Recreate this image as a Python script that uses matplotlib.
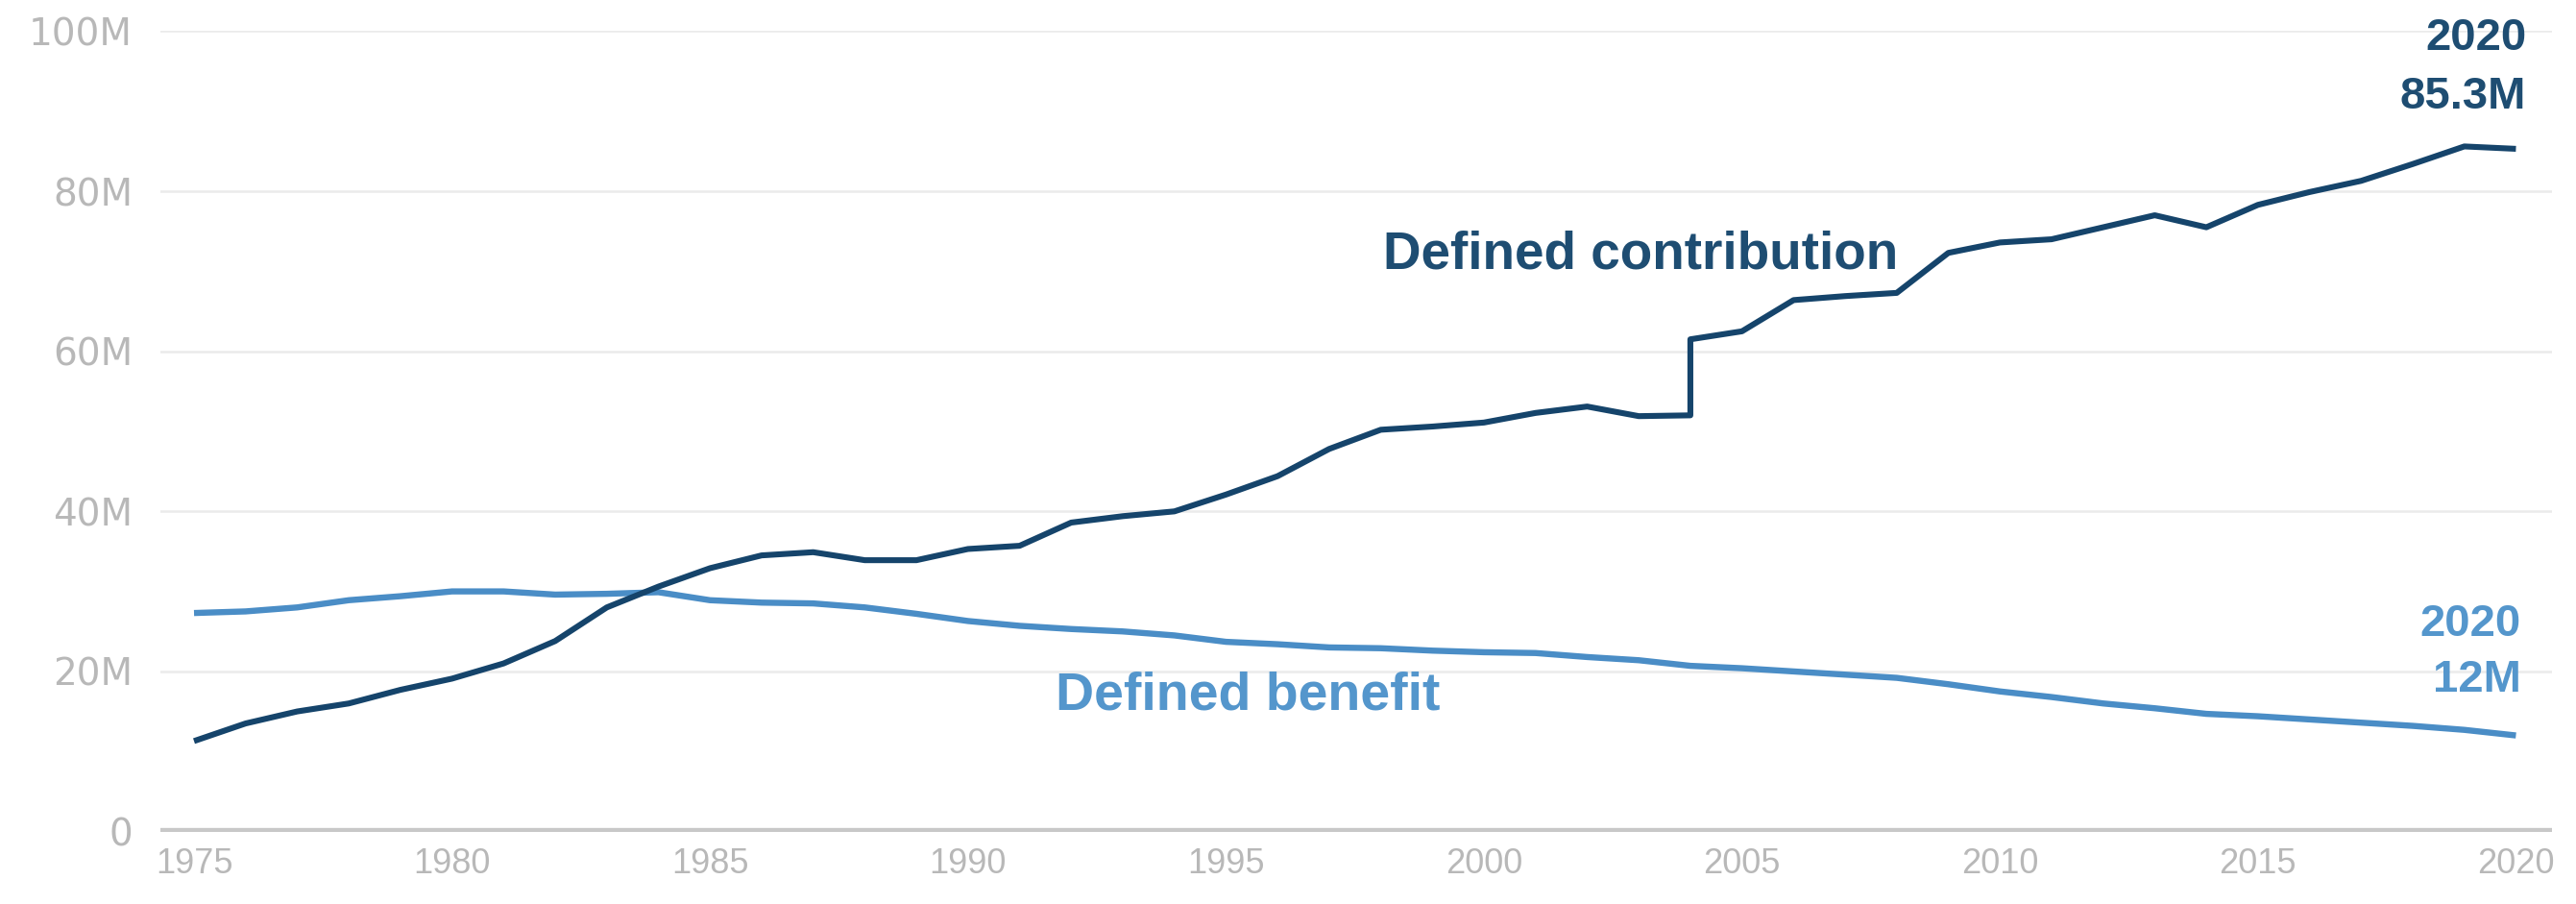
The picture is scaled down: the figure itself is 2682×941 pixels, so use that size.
import matplotlib
matplotlib.use("Agg")
import matplotlib.pyplot as plt
from matplotlib.ticker import FuncFormatter

# active participants, millions (2004 appears twice: series break)
years = [1975, 1976, 1977, 1978, 1979, 1980, 1981, 1982, 1983, 1984,
         1985, 1986, 1987, 1988, 1989, 1990, 1991, 1992, 1993, 1994,
         1995, 1996, 1997, 1998, 1999, 2000, 2001, 2002, 2003, 2004,
         2004, 2005, 2006, 2007, 2008, 2009, 2010, 2011, 2012, 2013,
         2014, 2015, 2016, 2017, 2018, 2019, 2020]
dc = [11.3, 13.5, 15.0, 16.0, 17.7, 19.1, 21.0, 23.8, 28.0, 30.6,
      32.9, 34.5, 34.9, 33.9, 33.9, 35.3, 35.7, 38.6, 39.4, 40.0,
      42.1, 44.4, 47.8, 50.2, 50.6, 51.1, 52.3, 53.1, 51.9, 52.0,
      61.5, 62.5, 66.4, 66.9, 67.3, 72.3, 73.6, 74.0, 75.5, 77.0,
      75.5, 78.3, 79.9, 81.3, 83.4, 85.6, 85.3]

db_years = [1975, 1976, 1977, 1978, 1979, 1980, 1981, 1982, 1983, 1984,
            1985, 1986, 1987, 1988, 1989, 1990, 1991, 1992, 1993, 1994,
            1995, 1996, 1997, 1998, 1999, 2000, 2001, 2002, 2003, 2004,
            2005, 2006, 2007, 2008, 2009, 2010, 2011, 2012, 2013, 2014,
            2015, 2016, 2017, 2018, 2019, 2020]
db = [27.3, 27.5, 28.0, 28.9, 29.4, 30.0, 30.0, 29.6, 29.7, 29.9,
      28.9, 28.6, 28.5, 28.0, 27.2, 26.3, 25.7, 25.3, 25.0, 24.5,
      23.7, 23.4, 23.0, 22.9, 22.6, 22.4, 22.3, 21.8, 21.4, 20.7,
      20.4, 20.0, 19.6, 19.2, 18.4, 17.5, 16.8, 16.0, 15.4, 14.7,
      14.4, 14.0, 13.6, 13.2, 12.7, 12.0]

yticks = [0, 20, 40, 60, 80, 100]
xticks = [1975, 1980, 1985, 1990, 1995, 2000, 2005, 2010, 2015, 2020]

dc_color = '#15446b'
db_color = '#4a8dc6'
dc_text = '#1e4d72'
db_text = '#5496cc'
tick_color = '#b8b8b8'
label_font = ['Liberation Sans', 'DejaVu Sans']

fig = plt.figure(figsize=(26.82, 9.41), dpi=100)
ax = fig.add_axes([0.0623, 0.0802, 0.9284, 0.8853])

for y in yticks[1:]:
    ax.axhline(y, color='#ebebeb', lw=1.8, zorder=0)
ax.axhline(0, color='#c8c8c8', lw=6, zorder=1)

ax.plot(db_years, db, color=db_color, lw=4.6, solid_capstyle='butt',
        solid_joinstyle='round', zorder=3)
ax.plot(years, dc, color=dc_color, lw=4.4, solid_capstyle='butt',
        solid_joinstyle='round', zorder=4)

ax.set_xlim(1974.35, 2020.7)
ax.set_ylim(0, 100)
ax.set_yticks(yticks)
ax.set_xticks(xticks)
ax.yaxis.set_major_formatter(FuncFormatter(lambda v, p: '0' if v == 0 else f'{int(v)}M'))
ax.tick_params(axis='y', length=0, pad=21, labelsize=28, labelcolor=tick_color)
ax.tick_params(axis='x', length=0, pad=12, labelsize=26, labelcolor=tick_color)
for lab in ax.get_xticklabels():
    lab.set_family(label_font)
for s in ax.spines.values():
    s.set_visible(False)

ax.text(1998.05, 70.3, 'Defined contribution', color=dc_text, fontsize=39.5,
        fontweight='bold', family=label_font, va='baseline', ha='left')
ax.text(1991.7, 15.3, 'Defined benefit', color=db_text, fontsize=40,
        fontweight='bold', family=label_font, va='baseline', ha='left')

ax.text(2020.2, 97.6, '2020', color=dc_text, fontsize=34, fontweight='bold',
        family=label_font, ha='right', va='baseline', clip_on=False)
ax.text(2020.2, 90.3, '85.3M', color=dc_text, fontsize=34, fontweight='bold',
        family=label_font, ha='right', va='baseline', clip_on=False)
ax.text(2020.1, 24.4, '2020', color=db_text, fontsize=34, fontweight='bold',
        family=label_font, ha='right', va='baseline', clip_on=False)
ax.text(2020.1, 17.5, '12M', color=db_text, fontsize=34, fontweight='bold',
        family=label_font, ha='right', va='baseline', clip_on=False)

fig.savefig('out.png', dpi=100, facecolor='white')
